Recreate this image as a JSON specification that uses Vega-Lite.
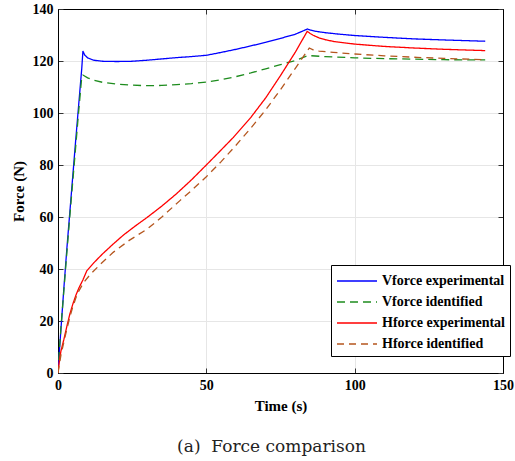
{
  "$schema": "https://vega.github.io/schema/vega-lite/v6.json",
  "width": 445,
  "height": 364,
  "autosize": "none",
  "padding": {"left": 58, "top": 9, "right": 12, "bottom": 88},
  "background": "white",
  "title": {"text": "(a)\u00a0\u00a0Force comparison", "orient": "bottom", "anchor": "middle", "font": "DejaVu Serif", "fontSize": 17, "fontWeight": "normal", "color": "#222", "offset": 26, "dx": -9},
  "datasets": {
    "d": [
      {"s":"Vforce experimental","t":0,"f":0},{"s":"Vforce experimental","t":0.5,"f":9},{"s":"Vforce experimental","t":1,"f":17},{"s":"Vforce experimental","t":2,"f":33},{"s":"Vforce experimental","t":3,"f":48},{"s":"Vforce experimental","t":4,"f":62},{"s":"Vforce experimental","t":5,"f":76},{"s":"Vforce experimental","t":6,"f":90},{"s":"Vforce experimental","t":7,"f":103.5},{"s":"Vforce experimental","t":8,"f":117},{"s":"Vforce experimental","t":8.4,"f":123.8},{"s":"Vforce experimental","t":9,"f":122.3},{"s":"Vforce experimental","t":10,"f":121.2},{"s":"Vforce experimental","t":12,"f":120.3},{"s":"Vforce experimental","t":15,"f":119.9},{"s":"Vforce experimental","t":20,"f":119.8},{"s":"Vforce experimental","t":25,"f":119.9},{"s":"Vforce experimental","t":30,"f":120.3},{"s":"Vforce experimental","t":35,"f":120.8},{"s":"Vforce experimental","t":40,"f":121.3},{"s":"Vforce experimental","t":45,"f":121.7},{"s":"Vforce experimental","t":50,"f":122.2},{"s":"Vforce experimental","t":55,"f":123.3},{"s":"Vforce experimental","t":60,"f":124.5},{"s":"Vforce experimental","t":65,"f":125.8},{"s":"Vforce experimental","t":70,"f":127.2},{"s":"Vforce experimental","t":75,"f":128.7},{"s":"Vforce experimental","t":80,"f":130.3},{"s":"Vforce experimental","t":84.1,"f":132.3},{"s":"Vforce experimental","t":85,"f":131.9},{"s":"Vforce experimental","t":87,"f":131.4},{"s":"Vforce experimental","t":90,"f":130.9},{"s":"Vforce experimental","t":95,"f":130.3},{"s":"Vforce experimental","t":100,"f":129.8},{"s":"Vforce experimental","t":110,"f":129.1},{"s":"Vforce experimental","t":120,"f":128.5},{"s":"Vforce experimental","t":130,"f":128.1},{"s":"Vforce experimental","t":144,"f":127.6},
      {"s":"Vforce identified","t":0,"f":0},{"s":"Vforce identified","t":0.5,"f":9.5},{"s":"Vforce identified","t":1,"f":17.5},{"s":"Vforce identified","t":2,"f":32},{"s":"Vforce identified","t":3,"f":46.5},{"s":"Vforce identified","t":4,"f":60.5},{"s":"Vforce identified","t":5,"f":74},{"s":"Vforce identified","t":6,"f":87.5},{"s":"Vforce identified","t":7,"f":101},{"s":"Vforce identified","t":8,"f":113.8},{"s":"Vforce identified","t":8.4,"f":114.6},{"s":"Vforce identified","t":10,"f":113.5},{"s":"Vforce identified","t":12,"f":112.6},{"s":"Vforce identified","t":15,"f":111.8},{"s":"Vforce identified","t":20,"f":111.1},{"s":"Vforce identified","t":25,"f":110.7},{"s":"Vforce identified","t":30,"f":110.5},{"s":"Vforce identified","t":35,"f":110.6},{"s":"Vforce identified","t":40,"f":110.9},{"s":"Vforce identified","t":45,"f":111.3},{"s":"Vforce identified","t":50,"f":111.9},{"s":"Vforce identified","t":55,"f":112.8},{"s":"Vforce identified","t":60,"f":114},{"s":"Vforce identified","t":65,"f":115.4},{"s":"Vforce identified","t":70,"f":117},{"s":"Vforce identified","t":75,"f":118.6},{"s":"Vforce identified","t":80,"f":120.2},{"s":"Vforce identified","t":84.3,"f":122.1},{"s":"Vforce identified","t":90,"f":121.7},{"s":"Vforce identified","t":100,"f":121.2},{"s":"Vforce identified","t":110,"f":120.9},{"s":"Vforce identified","t":120,"f":120.7},{"s":"Vforce identified","t":130,"f":120.5},{"s":"Vforce identified","t":144,"f":120.4},
      {"s":"Hforce experimental","t":0,"f":0},{"s":"Hforce experimental","t":0.5,"f":5},{"s":"Hforce experimental","t":1,"f":8.5},{"s":"Hforce experimental","t":2,"f":13},{"s":"Hforce experimental","t":3,"f":18},{"s":"Hforce experimental","t":4,"f":22.7},{"s":"Hforce experimental","t":5,"f":26.5},{"s":"Hforce experimental","t":6,"f":29.8},{"s":"Hforce experimental","t":7,"f":32.6},{"s":"Hforce experimental","t":8.4,"f":35.8},{"s":"Hforce experimental","t":9.7,"f":39.3},{"s":"Hforce experimental","t":12,"f":42.3},{"s":"Hforce experimental","t":15,"f":45.8},{"s":"Hforce experimental","t":18.6,"f":49.6},{"s":"Hforce experimental","t":22,"f":53},{"s":"Hforce experimental","t":26,"f":56.5},{"s":"Hforce experimental","t":30,"f":59.8},{"s":"Hforce experimental","t":35,"f":64.2},{"s":"Hforce experimental","t":40,"f":69},{"s":"Hforce experimental","t":45,"f":74.3},{"s":"Hforce experimental","t":50,"f":80},{"s":"Hforce experimental","t":55,"f":85.8},{"s":"Hforce experimental","t":59.1,"f":90.6},{"s":"Hforce experimental","t":65,"f":98.3},{"s":"Hforce experimental","t":70,"f":105.8},{"s":"Hforce experimental","t":75,"f":114.4},{"s":"Hforce experimental","t":80,"f":123.4},{"s":"Hforce experimental","t":84,"f":131.4},{"s":"Hforce experimental","t":85,"f":130.6},{"s":"Hforce experimental","t":86,"f":129.9},{"s":"Hforce experimental","t":88,"f":128.9},{"s":"Hforce experimental","t":90,"f":128.2},{"s":"Hforce experimental","t":93,"f":127.5},{"s":"Hforce experimental","t":100,"f":126.5},{"s":"Hforce experimental","t":110,"f":125.6},{"s":"Hforce experimental","t":120,"f":125},{"s":"Hforce experimental","t":130,"f":124.5},{"s":"Hforce experimental","t":144,"f":124},
      {"s":"Hforce identified","t":0,"f":0},{"s":"Hforce identified","t":0.5,"f":3.5},{"s":"Hforce identified","t":1,"f":7},{"s":"Hforce identified","t":2,"f":12},{"s":"Hforce identified","t":3,"f":17},{"s":"Hforce identified","t":4,"f":21.5},{"s":"Hforce identified","t":5,"f":25.5},{"s":"Hforce identified","t":6,"f":28.8},{"s":"Hforce identified","t":7,"f":31.5},{"s":"Hforce identified","t":8.4,"f":34.3},{"s":"Hforce identified","t":9.1,"f":35.4},{"s":"Hforce identified","t":10.8,"f":37.8},{"s":"Hforce identified","t":14,"f":41.5},{"s":"Hforce identified","t":18.6,"f":46.4},{"s":"Hforce identified","t":24,"f":51},{"s":"Hforce identified","t":30.1,"f":55.4},{"s":"Hforce identified","t":35,"f":60},{"s":"Hforce identified","t":41.1,"f":66.3},{"s":"Hforce identified","t":45,"f":70.2},{"s":"Hforce identified","t":50,"f":75.5},{"s":"Hforce identified","t":55,"f":81.3},{"s":"Hforce identified","t":60,"f":87.6},{"s":"Hforce identified","t":65,"f":94.2},{"s":"Hforce identified","t":70,"f":101.2},{"s":"Hforce identified","t":75,"f":109},{"s":"Hforce identified","t":80,"f":117.2},{"s":"Hforce identified","t":84.7,"f":125},{"s":"Hforce identified","t":86,"f":124.3},{"s":"Hforce identified","t":88,"f":123.8},{"s":"Hforce identified","t":92.8,"f":123.3},{"s":"Hforce identified","t":100,"f":122.7},{"s":"Hforce identified","t":104,"f":122.4},{"s":"Hforce identified","t":110,"f":122},{"s":"Hforce identified","t":121,"f":121.4},{"s":"Hforce identified","t":130,"f":121},{"s":"Hforce identified","t":144,"f":120.5}
    ]
  },
  "data": {"name": "d"},
  "layer": [
    {
      "mark": {"type": "line", "strokeWidth": 1.3, "clip": true},
      "encoding": {
        "x": {"field": "t", "type": "quantitative", "scale": {"domain": [0, 150], "nice": false}, "axis": {"title": "Time (s)", "values": [0, 50, 100, 150], "orient": "bottom", "titlePadding": 6}},
        "y": {"field": "f", "type": "quantitative", "scale": {"domain": [0, 140], "nice": false}, "axis": {"title": "Force (N)", "values": [0, 20, 40, 60, 80, 100, 120, 140], "orient": "left", "titlePadding": 6}},
        "color": {"field": "s", "type": "nominal", "sort": null, "scale": {"domain": ["Vforce experimental", "Vforce identified", "Hforce experimental", "Hforce identified"], "range": ["#0000FF", "#1E8C1E", "#FF0000", "#B5561E"]}, "legend": {"title": null}},
        "strokeDash": {"field": "s", "type": "nominal", "sort": null, "scale": {"domain": ["Vforce experimental", "Vforce identified", "Hforce experimental", "Hforce identified"], "range": [[1, 0], [8, 5], [1, 0], [7, 5]]}, "legend": {"title": null}},
        "detail": {"field": "s"}
      }
    },
    {
      "mark": {"type": "line", "strokeOpacity": 0},
      "encoding": {
        "x": {"field": "t", "type": "quantitative", "axis": {"orient": "top", "labels": false, "grid": false, "title": null, "values": [0, 50, 100, 150]}},
        "y": {"field": "f", "type": "quantitative", "axis": {"orient": "right", "labels": false, "grid": false, "title": null, "values": [0, 20, 40, 60, 80, 100, 120, 140]}}
      }
    }
  ],
  "resolve": {"axis": {"x": "independent", "y": "independent"}},
  "config": {
    "view": {"stroke": "#000", "strokeWidth": 1},
    "axis": {
      "labelFont": "Liberation Serif", "labelFontWeight": "bold", "labelFontSize": 14, "labelColor": "#000", "labelFlush": false,
      "titleFont": "Liberation Serif", "titleFontWeight": "bold", "titleFontSize": 15, "titleColor": "#000",
      "domainColor": "#000", "tickColor": "#333", "tickSize": -5, "labelPadding": 10,
      "gridColor": "#e6e6e6", "gridWidth": 1
    },
    "legend": {
      "orient": "none", "legendX": 273, "legendY": 256,
      "fillColor": "#fff", "strokeColor": "#000", "padding": 5,
      "labelFont": "Liberation Serif", "labelFontWeight": "bold", "labelFontSize": 14, "labelColor": "#000",
      "symbolType": "M-1,0H3", "symbolSize": 400, "symbolStrokeWidth": 1.5, "symbolFillColor": "transparent", "labelOffset": 24, "rowPadding": 3
    }
  }
}
